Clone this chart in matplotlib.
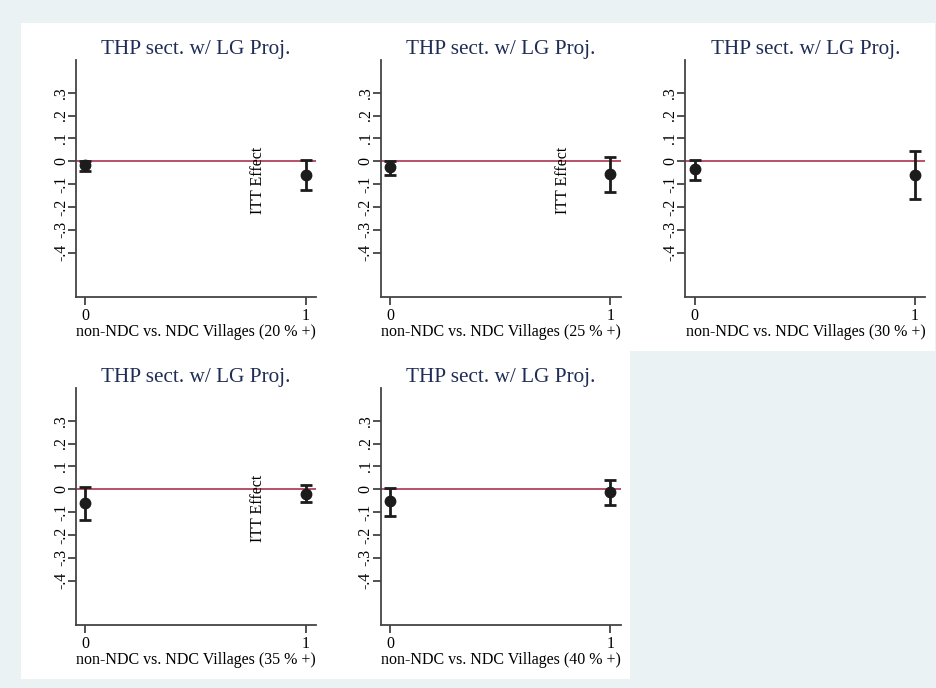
import numpy as np
import matplotlib.pyplot as plt
from matplotlib.patches import Rectangle

plt.rcParams['font.family'] = ['Liberation Serif', 'DejaVu Serif']

# data
thresholds = ["20", "25", "30", "35", "40"]
groups = [0, 1]
est_0 = [-0.015, -0.025, -0.036, -0.062, -0.051]
lo_0 = [-0.044, -0.058, -0.080, -0.135, -0.117]
hi_0 = [0.002, 0.003, 0.007, 0.010, 0.006]
est_1 = [-0.061, -0.055, -0.061, -0.019, -0.012]
lo_1 = [-0.127, -0.134, -0.167, -0.055, -0.070]
hi_1 = [0.006, 0.017, 0.047, 0.020, 0.042]
yticks = [-0.4, -0.3, -0.2, -0.1, 0, 0.1, 0.2, 0.3]
ytick_labels = ["-.4", "-.3", "-.2", "-.1", "0", ".1", ".2", ".3"]
title = "THP sect. w/ LG Proj."
ytitle = "ITT Effect"
has_ytitle = [True, True, False, True, False]

W, H = 937, 688
fig = plt.figure(figsize=(W / 100, H / 100), dpi=100)
fig.patch.set_facecolor('#eaf2f3')

pw, ph = 304.7, 328
for i, thr in enumerate(thresholds):
    c, r = i % 3, i // 3
    pl = 21 + pw * c
    pt = 23 + ph * r
    # white panel background
    fig.patches.append(Rectangle((pl / W, 1 - (pt + ph) / H), pw / W, ph / H,
                                 transform=fig.transFigure, facecolor='white',
                                 edgecolor='none', zorder=-10))
    ax = fig.add_axes([(pl + 55) / W, 1 - (pt + 274) / H, 240 / W, 237 / H])
    ax.set_facecolor('white')
    est = [est_0[i], est_1[i]]
    lo = [lo_0[i], lo_1[i]]
    hi = [hi_0[i], hi_1[i]]
    err = [np.array(est) - np.array(lo), np.array(hi) - np.array(est)]
    ax.axhline(0, color='#a3203f', lw=1.1, zorder=1)
    ax.errorbar(groups, est, yerr=err, fmt='o', color='#1c1c1c', ms=7.5,
                elinewidth=2, capsize=4.5, capthick=2, zorder=3)
    ax.set_xlim(-0.042, 1.047)
    ax.set_ylim(-0.594, 0.443)
    ax.set_xticks(groups)
    ax.set_yticks(yticks)
    ax.set_yticklabels(ytick_labels, rotation=90, va='center')
    ax.tick_params(axis='both', labelsize=11.5, length=6, width=1.2,
                   color='#333333', direction='out')
    ax.tick_params(axis='x', pad=2)
    ax.tick_params(axis='y', pad=-1)
    for s in ['top', 'right']:
        ax.spines[s].set_visible(False)
    for s in ['left', 'bottom']:
        ax.spines[s].set_color('#444444')
        ax.spines[s].set_linewidth(1.3)
    ax.set_xlabel("non-NDC vs. NDC Villages (" + thr + " % +)", fontsize=11.5,
                  labelpad=0)
    ax.set_title(title, fontsize=15.3, color='#1f2d56', pad=4)
    if has_ytitle[i]:
        fig.text((pl + 237) / W, 1 - (pt + 157) / H, ytitle, rotation=90,
                 ha='center', va='center', fontsize=11.5)

fig.savefig('out.png', dpi=100, facecolor=fig.get_facecolor())
